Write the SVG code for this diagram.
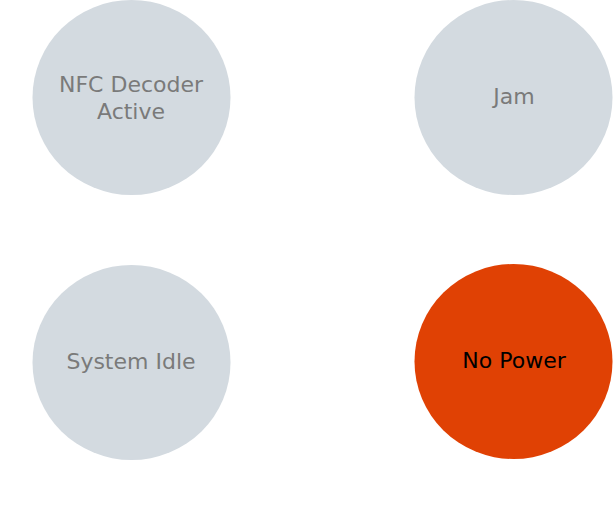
<svg xmlns="http://www.w3.org/2000/svg" width="613" height="511" viewBox="0 0 613 511">
<style>
.n{fill:#d3dae0}
.a{fill:#e04104}
text{font-family:"DejaVu Sans",sans-serif;font-size:22px;text-anchor:middle;dominant-baseline:central}
.g{fill:#7a7a7a}
.k{fill:#000}
</style>
<rect width="613" height="511" fill="#fff"/>
<g id="connectors"></g>
<g id="nfc"><ellipse class="n" cx="131.5" cy="97.5" rx="99" ry="97.5"/><text class="g" x="131" y="84">NFC Decoder</text><text class="g" x="131" y="111">Active</text></g>
<g id="jam"><ellipse class="n" cx="513.5" cy="97.5" rx="99" ry="97.5"/><text class="g" x="514" y="96">Jam</text></g>
<g id="idle"><ellipse class="n" cx="131.5" cy="362.5" rx="99" ry="97.5"/><text class="g" x="131" y="361">System Idle</text></g>
<g id="nopower"><ellipse class="a" cx="513.5" cy="361.5" rx="99" ry="97.5"/><text class="k" x="514" y="360">No Power</text></g>
</svg>
